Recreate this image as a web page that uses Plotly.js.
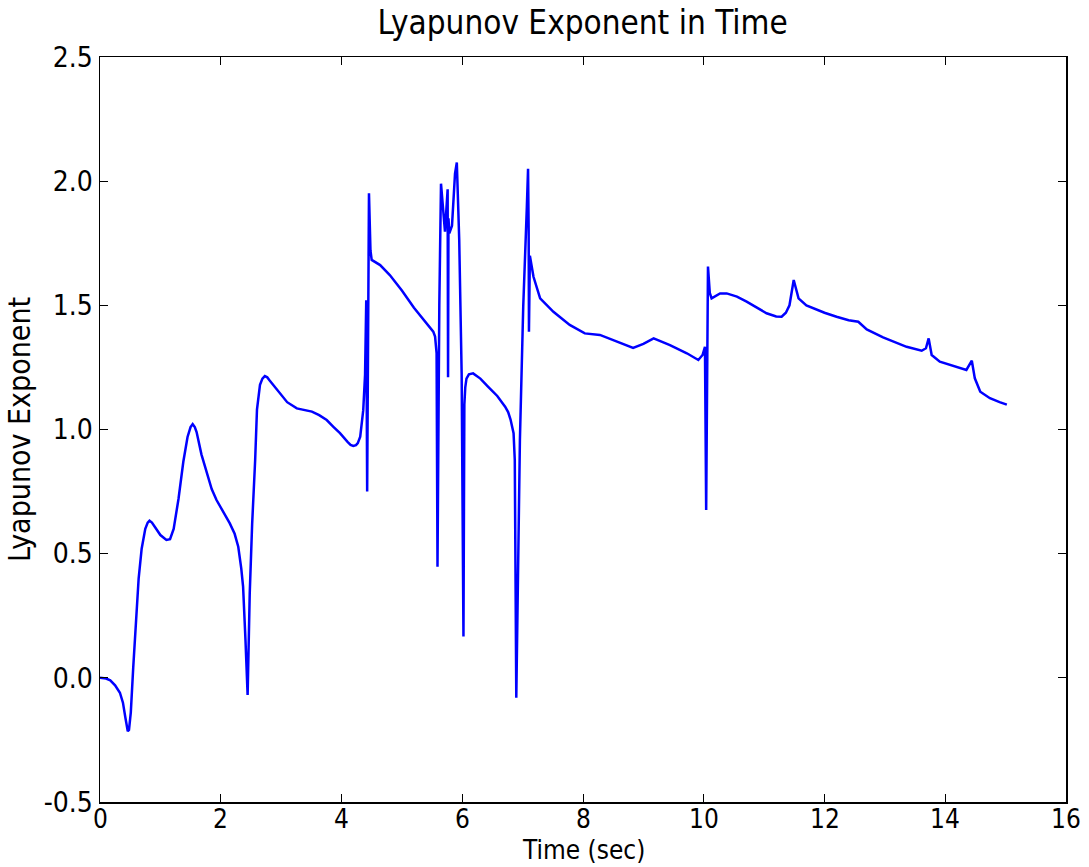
<!DOCTYPE html>
<html>
<head>
<meta charset="utf-8">
<script src="https://cdn.plot.ly/plotly-3.0.1.min.js"></script>
<style>html,body{margin:0;padding:0;background:#fff;}</style>
</head>
<body>
<div id="chart" style="width:1089px;height:867px;"></div>
<script>
const timeSec = [
  0.00, 0.10, 0.17, 0.25, 0.33, 0.38, 0.42, 0.46, 0.48, 0.51,
  0.55, 0.60, 0.64, 0.69, 0.75, 0.79, 0.82, 0.86, 0.90, 1.00,
  1.10, 1.16, 1.22, 1.30, 1.38, 1.45, 1.50, 1.535, 1.57, 1.60,
  1.68, 1.77, 1.85, 1.93, 2.05, 2.15, 2.23, 2.29, 2.34, 2.37,
  2.41, 2.445, 2.48, 2.52, 2.57, 2.60, 2.65, 2.69, 2.73, 2.77,
  2.80, 2.90, 2.98, 3.10, 3.26, 3.40, 3.51, 3.63, 3.755, 3.87,
  3.975, 4.10, 4.15, 4.195, 4.24, 4.27, 4.31, 4.36, 4.39, 4.41,
  4.425, 4.455, 4.48, 4.50, 4.64, 4.80, 5.00, 5.20, 5.40, 5.52,
  5.55, 5.575, 5.59, 5.62, 5.648, 5.68, 5.714, 5.758, 5.765, 5.772,
  5.786, 5.83, 5.88, 5.91, 5.95, 5.99, 6.02, 6.035, 6.05, 6.07,
  6.11, 6.18, 6.30, 6.43, 6.58, 6.71, 6.76, 6.80, 6.83, 6.85,
  6.87, 6.895, 6.955, 7.01, 7.07, 7.09, 7.10, 7.105, 7.12, 7.18,
  7.29, 7.51, 7.78, 8.03, 8.28, 8.56, 8.83, 9.00, 9.17, 9.44,
  9.72, 9.91, 9.98, 10.02, 10.04, 10.07, 10.10, 10.13, 10.27, 10.38,
  10.55, 10.71, 10.88, 11.04, 11.20, 11.29, 11.36, 11.42, 11.49, 11.57,
  11.70, 11.815, 12.00, 12.20, 12.40, 12.56, 12.70, 12.97, 13.36, 13.61,
  13.68, 13.725, 13.775, 13.91, 14.10, 14.35, 14.44, 14.49, 14.58, 14.74,
  14.90, 15.02
];
const lyapunov = [
  0.00, -0.003, -0.01, -0.03, -0.06, -0.10, -0.16, -0.215, -0.21, -0.14,
  0.04, 0.25, 0.40, 0.52, 0.60, 0.625, 0.633, 0.625, 0.61, 0.575,
  0.555, 0.558, 0.60, 0.72, 0.87, 0.97, 1.01, 1.022, 1.01, 0.99,
  0.90, 0.82, 0.76, 0.716, 0.665, 0.622, 0.58, 0.528, 0.44, 0.367,
  0.15, -0.069, 0.34, 0.62, 0.877, 1.08, 1.18, 1.205, 1.215, 1.21,
  1.20, 1.17, 1.146, 1.11, 1.085, 1.077, 1.072, 1.058, 1.038, 1.01,
  0.985, 0.95, 0.938, 0.934, 0.937, 0.945, 0.971, 1.078, 1.22, 1.52,
  0.75, 1.951, 1.72, 1.683, 1.662, 1.622, 1.56, 1.49, 1.43, 1.394,
  1.374, 1.307, 0.447, 1.50, 1.99, 1.90, 1.797, 1.967, 1.21, 1.85,
  1.79, 1.82, 2.03, 2.075, 1.763, 1.226, 0.166, 1.10, 1.17, 1.205,
  1.222, 1.226, 1.205, 1.172, 1.135, 1.092, 1.07, 1.04, 1.01, 0.985,
  0.877, -0.08, 0.958, 1.494, 1.897, 2.05, 1.80, 1.394, 1.70, 1.615,
  1.528, 1.474, 1.421, 1.387, 1.381, 1.354, 1.329, 1.345, 1.367, 1.34,
  1.307, 1.28, 1.30, 1.333, 0.676, 1.656, 1.55, 1.528, 1.548, 1.548,
  1.535, 1.515, 1.49, 1.468, 1.455, 1.454, 1.47, 1.50, 1.602, 1.528,
  1.50, 1.488, 1.47, 1.454, 1.44, 1.434, 1.403, 1.371, 1.333, 1.317,
  1.327, 1.367, 1.30, 1.273, 1.258, 1.24, 1.277, 1.206, 1.152, 1.126,
  1.11, 1.10
];
const xTicks = [0, 2, 4, 6, 8, 10, 12, 14, 16];
const xTickText = ['0', '2', '4', '6', '8', '10', '12', '14', '16'];
const yTicks = [-0.5, 0.0, 0.5, 1.0, 1.5, 2.0, 2.5];
const yTickText = ['-0.5', '0.0', '0.5', '1.0', '1.5', '2.0', '2.5'];

const FONT = '"DejaVu Sans Condensed", "DejaVu Sans", sans-serif';

const trace = {
  x: timeSec,
  y: lyapunov,
  type: 'scatter',
  mode: 'lines',
  line: {color: '#0000ff', width: 2.5},
  hoverinfo: 'skip'
};

const axisCommon = {
  showgrid: false,
  zeroline: false,
  showline: true,
  linecolor: '#000',
  linewidth: 1.5,
  mirror: 'ticks',
  ticks: 'inside',
  ticklen: 8,
  tickwidth: 1,
  tickcolor: '#000',
  tickfont: {family: FONT, size: 28, color: '#000'}
};

// x tick labels placed through the x scale, a little closer to the axis than Plotly's default
const xLabelAnnotations = xTicks.map((v, i) => ({
  text: xTickText[i],
  xref: 'x', yref: 'paper',
  x: v, y: -0.0228,
  xanchor: 'center', yanchor: 'middle',
  showarrow: false,
  borderpad: 0,
  font: {family: FONT, size: 26, color: '#000'}
}));

const layout = {
  width: 1089,
  height: 867,
  paper_bgcolor: '#fff',
  plot_bgcolor: '#fff',
  margin: {l: 100, r: 23, t: 57, b: 65},
  showlegend: false,
  title: {
    text: 'Lyapunov Exponent in Time',
    font: {family: FONT, size: 33, color: '#000'},
    x: 0.535, xanchor: 'center',
    y: 0.974, yanchor: 'middle'
  },
  xaxis: Object.assign({}, axisCommon, {
    range: [0, 16],
    tickvals: xTicks,
    showticklabels: false
  }),
  yaxis: Object.assign({}, axisCommon, {
    range: [-0.5, 2.5],
    tickvals: yTicks,
    ticktext: yTickText,
    title: {text: 'Lyapunov Exponent', font: {family: FONT, size: 30, color: '#000'}, standoff: 4}
  }),
  annotations: xLabelAnnotations.concat([{
    text: 'Time (sec)',
    xref: 'paper', yref: 'paper',
    x: 0.5, y: -0.0645,
    xanchor: 'center', yanchor: 'middle',
    showarrow: false,
    borderpad: 0,
    font: {family: FONT, size: 26, color: '#000'}
  }])
};

Plotly.newPlot('chart', [trace], layout, {displayModeBar: false, staticPlot: true});
</script>
</body>
</html>
